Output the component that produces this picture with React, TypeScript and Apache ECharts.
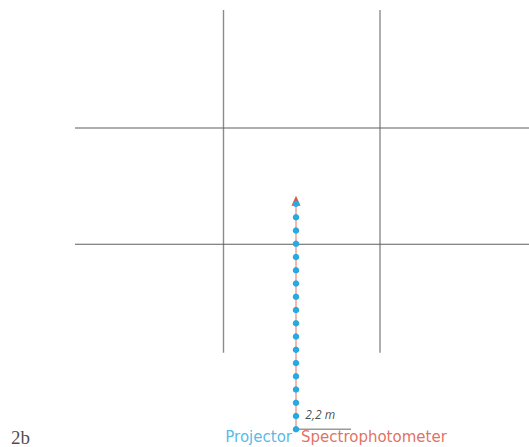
import React, { useEffect, useRef } from "react";
import * as echarts from "echarts";

// Coordinates in metres, origin at the projector position.
const gridXs = [-2.9, 3.36];          // vertical grid line positions
const gridVSpan = [3.06, 16.77];      // vertical lines y extent
const gridYs = [7.4, 12.05];          // horizontal grid line positions
const gridHSpan = [-8.84, 9.32];      // horizontal lines x extent
const dotYs = [0, 0.53, 1.06, 1.59, 2.12, 2.65, 3.18, 3.71, 4.24, 4.77, 5.3, 5.83, 6.36, 6.89, 7.42, 7.95, 8.48, 9.02];
const pathEnd = 9.2;
const arrowY = 9.14;
const scaleLength = 2.2;
const scaleLabel = "2,2 m";
const projectorLabel = "Projector";
const spectroLabel = "Spectrophotometer";
const figureLabel = "2b";

export default function App() {
  const ref = useRef<HTMLDivElement>(null);
  useEffect(() => {
    if (!ref.current) return;
    const chart = echarts.init(ref.current, undefined, { renderer: "svg" });
    const series: any[] = [];
    gridXs.forEach((x) => {
      series.push({
        type: "line",
        data: [[x, gridVSpan[0]], [x, gridVSpan[1]]],
        symbol: "none",
        lineStyle: { color: "#8c8c8c", width: 1.4 },
        silent: true,
      });
    });
    gridYs.forEach((y) => {
      series.push({
        type: "line",
        data: [[gridHSpan[0], y], [gridHSpan[1], y]],
        symbol: "none",
        lineStyle: { color: "#5e5e5e", width: 1.1 },
        silent: true,
      });
    });
    // scale bar
    series.push({
      type: "line",
      data: [[0, 0], [scaleLength, 0]],
      symbol: "none",
      lineStyle: { color: "#9a9a9a", width: 1.5 },
    });
    // measuring path
    series.push({
      type: "line",
      data: [[0, 0], [0, pathEnd]],
      symbol: "none",
      lineStyle: { color: "#f0a097", width: 1.5 },
    });
    // arrow head
    series.push({
      type: "scatter",
      data: [[0, arrowY]],
      symbol: "triangle",
      symbolSize: [9, 10],
      z: 5,
      itemStyle: { color: "#e0533f", opacity: 1 },
    });
    // dots
    series.push({
      type: "scatter",
      data: dotYs.map((y) => [0, y]),
      symbol: "circle",
      symbolSize: 6.5,
      z: 6,
      itemStyle: { color: "#27a9e1", opacity: 1, borderWidth: 0 },
    });
    // labels
    series.push({
      type: "scatter",
      symbolSize: 0,
      z: 7,
      data: [
        {
          value: [0.97, 0.61],
          label: {
            show: true, position: "inside", formatter: scaleLabel,
            fontFamily: "Open Sans", fontStyle: "italic", fontSize: 12, color: "#1a1a1a",
          },
        },
        {
          value: [-0.16, -0.31],
          label: {
            show: true, position: "left", distance: 0, formatter: projectorLabel,
            fontFamily: "DejaVu Sans", fontSize: 15, color: "#27a9e1",
          },
        },
        {
          value: [0.2, -0.31],
          label: {
            show: true, position: "right", distance: 0, formatter: spectroLabel,
            fontFamily: "DejaVu Sans", fontSize: 15, color: "#d94a38",
          },
        },
        {
          value: [-11.4, -0.31],
          label: {
            show: true, position: "right", distance: 0, formatter: figureLabel,
            fontFamily: "Liberation Serif", fontSize: 19, color: "#1a1a1a",
          },
        },
      ],
    });
    chart.setOption({
      animation: false,
      grid: { left: 0, right: 0, top: 0, bottom: 0 },
      xAxis: { type: "value", min: -11.84, max: 9.32, show: false },
      yAxis: { type: "value", min: -0.708, max: 17.172, show: false },
      series,
    });
    return () => chart.dispose();
  }, []);
  return (
    <div
      ref={ref}
      style={{ position: "absolute", left: 0, top: 0, width: 529, height: 447, background: "#fff" }}
    />
  );
}
